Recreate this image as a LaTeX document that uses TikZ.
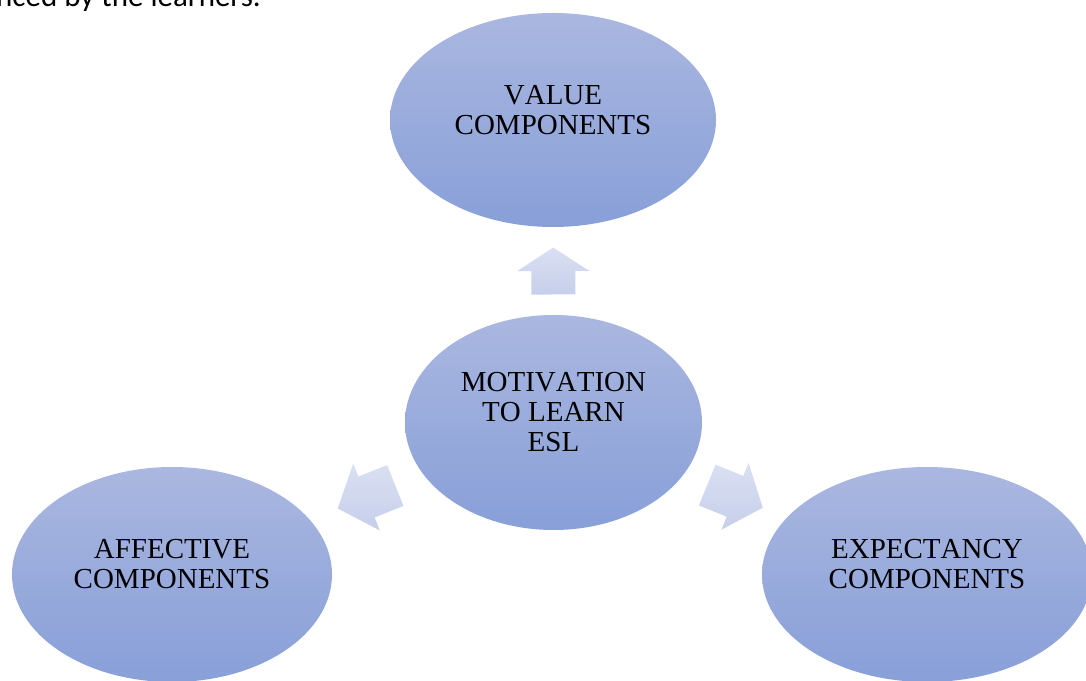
\documentclass[tikz,border=0pt]{standalone}
\usepackage{fontspec}
\setmainfont{Liberation Serif}[Kerning=Off]
\newfontfamily\bodyfont{Carlito}
\usetikzlibrary{shapes.geometric,calc}
\definecolor{ovaltop}{RGB}{170,183,224}
\definecolor{ovalbot}{RGB}{136,159,216}
\definecolor{arrowlite}{RGB}{218,224,242}
\definecolor{arrowdark}{RGB}{198,207,235}
\tikzset{
  oval/.style={ellipse, inner sep=0pt, top color=ovaltop, bottom color=ovalbot, draw=none},
  ovaltext/.style={align=center, font=\fontsize{29}{30}\selectfont},
  fatarrow/.pic={
    \shade[top color=arrowlite, bottom color=arrowdark]
      (-#1/2,-22) -- (0,-22) -- (0,-36) -- (#1/2,0) -- (0,36) -- (0,22) -- (-#1/2,22) -- cycle;
  }
}
\begin{document}
\begin{tikzpicture}[x=1pt,y=1pt]
\useasboundingbox (0,0) rectangle (1086,680);
% text running on from the page above
\node[anchor=base west, inner sep=0pt, font=\bodyfont\fontsize{31}{36}\selectfont] (runon) at (-4,673) {nced by the learners.};
% the four ovals
\node[oval, minimum width=326, minimum height=214] (value) at (553,560) {};
\node[oval, minimum width=297, minimum height=215] (motiv) at (553.5,257.5) {};
\node[oval, minimum width=320, minimum height=215] (affect) at (172,105.5) {};
\node[oval, minimum width=330, minimum height=215] (expect) at (927,105.5) {};
\node[ovaltext] (valuetxt) at ([yshift=10]value.center) {VALUE\\COMPONENTS};
\node[ovaltext] (motivtxt) at ([yshift=10]motiv.center) {MOTIVATION\\TO LEARN\\ESL};
\node[ovaltext] (affecttxt) at ([yshift=10]affect.center) {AFFECTIVE\\COMPONENTS};
\node[ovaltext] (expecttxt) at ([yshift=10]expect.center) {EXPECTANCY\\COMPONENTS};
% block arrows in the gaps
\path (motiv) -- (value) pic[pos=0.5, sloped, allow upside down] (uparrow) {fatarrow=47};
\path (motiv) -- (affect) pic[pos=0.5, sloped, allow upside down] (leftarrow) {fatarrow=62};
\path (motiv) -- (expect) pic[pos=0.5, sloped, allow upside down] (rightarrow) {fatarrow=60};
\end{tikzpicture}
\end{document}
